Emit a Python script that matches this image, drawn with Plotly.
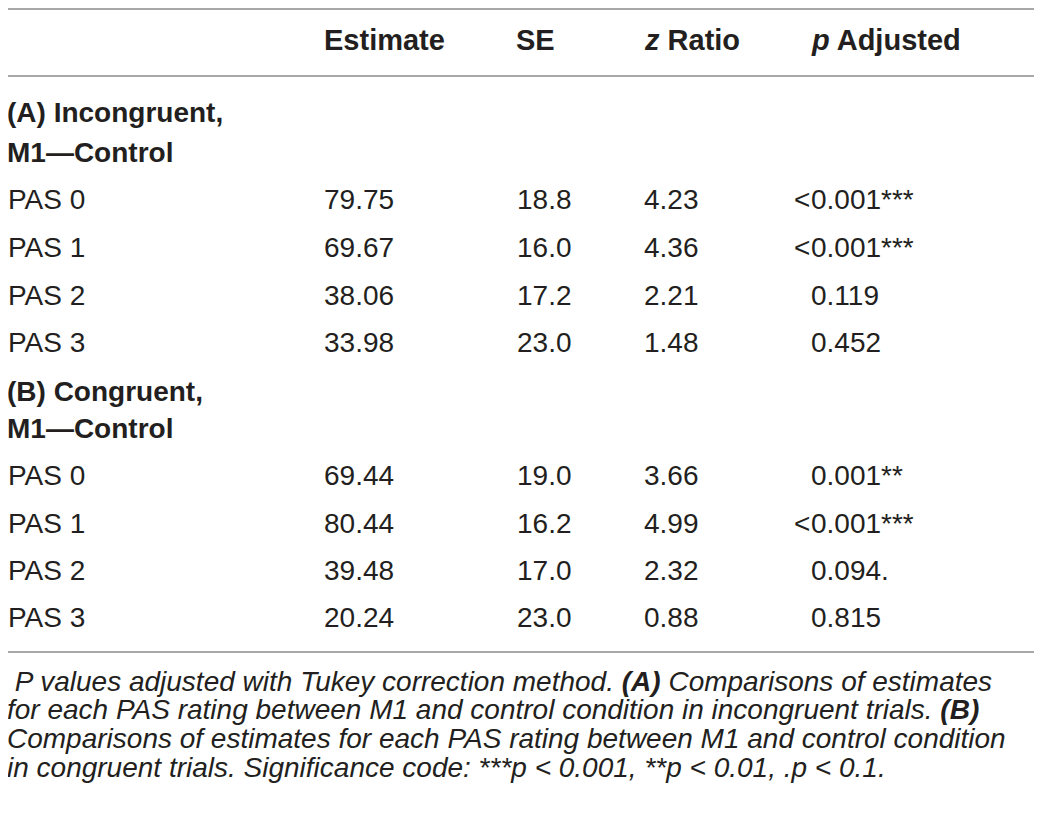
import plotly.graph_objects as go

# ---------------- data ----------------
columns = ["Estimate", "SE", "<i>z</i> Ratio", "<i>p</i> Adjusted"]
section_titles = [["(A) Incongruent,", "M1\u2014Control"],
                  ["(B) Congruent,", "M1\u2014Control"]]
pas_labels = ["PAS 0", "PAS 1", "PAS 2", "PAS 3"]

estimate_a = ["79.75", "69.67", "38.06", "33.98"]
se_a = ["18.8", "16.0", "17.2", "23.0"]
z_a = ["4.23", "4.36", "2.21", "1.48"]
p_a = ["<0.001", "<0.001", "0.119", "0.452"]
sig_a = ["***", "***", "", ""]

estimate_b = ["69.44", "80.44", "39.48", "20.24"]
se_b = ["19.0", "16.2", "17.0", "23.0"]
z_b = ["3.66", "4.99", "2.32", "0.88"]
p_b = ["0.001", "<0.001", "0.094.", "0.815"]
sig_b = ["**", "***", "", ""]

caption_lines = [
    " P values adjusted with Tukey correction method. <b>(A)</b> Comparisons of estimates",
    "for each PAS rating between M1 and control condition in incongruent trials. <b>(B)</b>",
    "Comparisons of estimates for each PAS rating between M1 and control condition",
    "in congruent trials. Significance code: ***p &lt; 0.001, **p &lt; 0.01, .p &lt; 0.1.",
]

# ---------------- layout constants (screen pixel coordinates) ----------------
PAGE_W, PAGE_H = 1042, 814
BODY = 8  # default page margin around the plot div
W, H = PAGE_W - 2 * BODY, PAGE_H - 2 * BODY
FONT = "Liberation Sans, Arial, Helvetica, sans-serif"
TXT = "#231f20"
LINE = "#a8a8a8"
DX = -2  # glyph box offset
col_x = [325, 518, 645, 812]
header_x = [325, 517, 645, 812]
label_x = 8
header_y = 40
section_y = [[112, 152], [391, 428]]
rows_y = [[199, 247, 295, 342], [475, 523, 570, 617]]
rules_y = [9, 76, 652]
caption_y = [681, 709, 738, 767]


def px(x):
    return (x - BODY) / W


def py(y):
    return 1 - (y - BODY) / H


ann = []

def add(text, x, y, size=28, xanchor="left", bold=False, italic=False):
    if bold:
        text = "<b>" + text + "</b>"
    if italic:
        text = "<i>" + text + "</i>"
    ann.append(dict(text=text, x=px(x + DX), y=py(y), xref="paper", yref="paper",
                    xanchor=xanchor, yanchor="middle", showarrow=False, borderpad=0,
                    font=dict(family=FONT, size=size, color=TXT)))

for c, x in zip(columns, header_x):
    add(c, x, header_y, size=29, bold=True)

blocks = [(estimate_a, se_a, z_a, p_a, sig_a), (estimate_b, se_b, z_b, p_b, sig_b)]
for bi, (est, se, zz, pp, sg) in enumerate(blocks):
    for t, y in zip(section_titles[bi], section_y[bi]):
        add(t, label_x, y, size=28, bold=True)
    for ri, y in enumerate(rows_y[bi]):
        add(pas_labels[ri], label_x + 1, y)
        add(est[ri], col_x[0], y)
        add(se[ri], col_x[1], y)
        add(zz[ri], col_x[2], y)
        pv = pp[ri]
        if pv.startswith("<"):
            add("&lt;", col_x[3] + 1, y, xanchor="right")
            pv = pv[1:]
        add(pv + sg[ri], col_x[3], y)

for line, y in zip(caption_lines, caption_y):
    add(line, label_x, y, size=28, italic=True)

shapes = [dict(type="line", xref="paper", yref="paper", x0=px(8), x1=px(1035),
               y0=py(yy), y1=py(yy), line=dict(color=LINE, width=2)) for yy in rules_y]

fig = go.Figure()
fig.update_layout(
    width=W, height=H, margin=dict(l=0, r=0, t=0, b=0),
    paper_bgcolor="white", plot_bgcolor="white",
    xaxis=dict(visible=False, fixedrange=True),
    yaxis=dict(visible=False, fixedrange=True),
    annotations=ann, shapes=shapes, showlegend=False,
)
fig.write_html("out.html")
